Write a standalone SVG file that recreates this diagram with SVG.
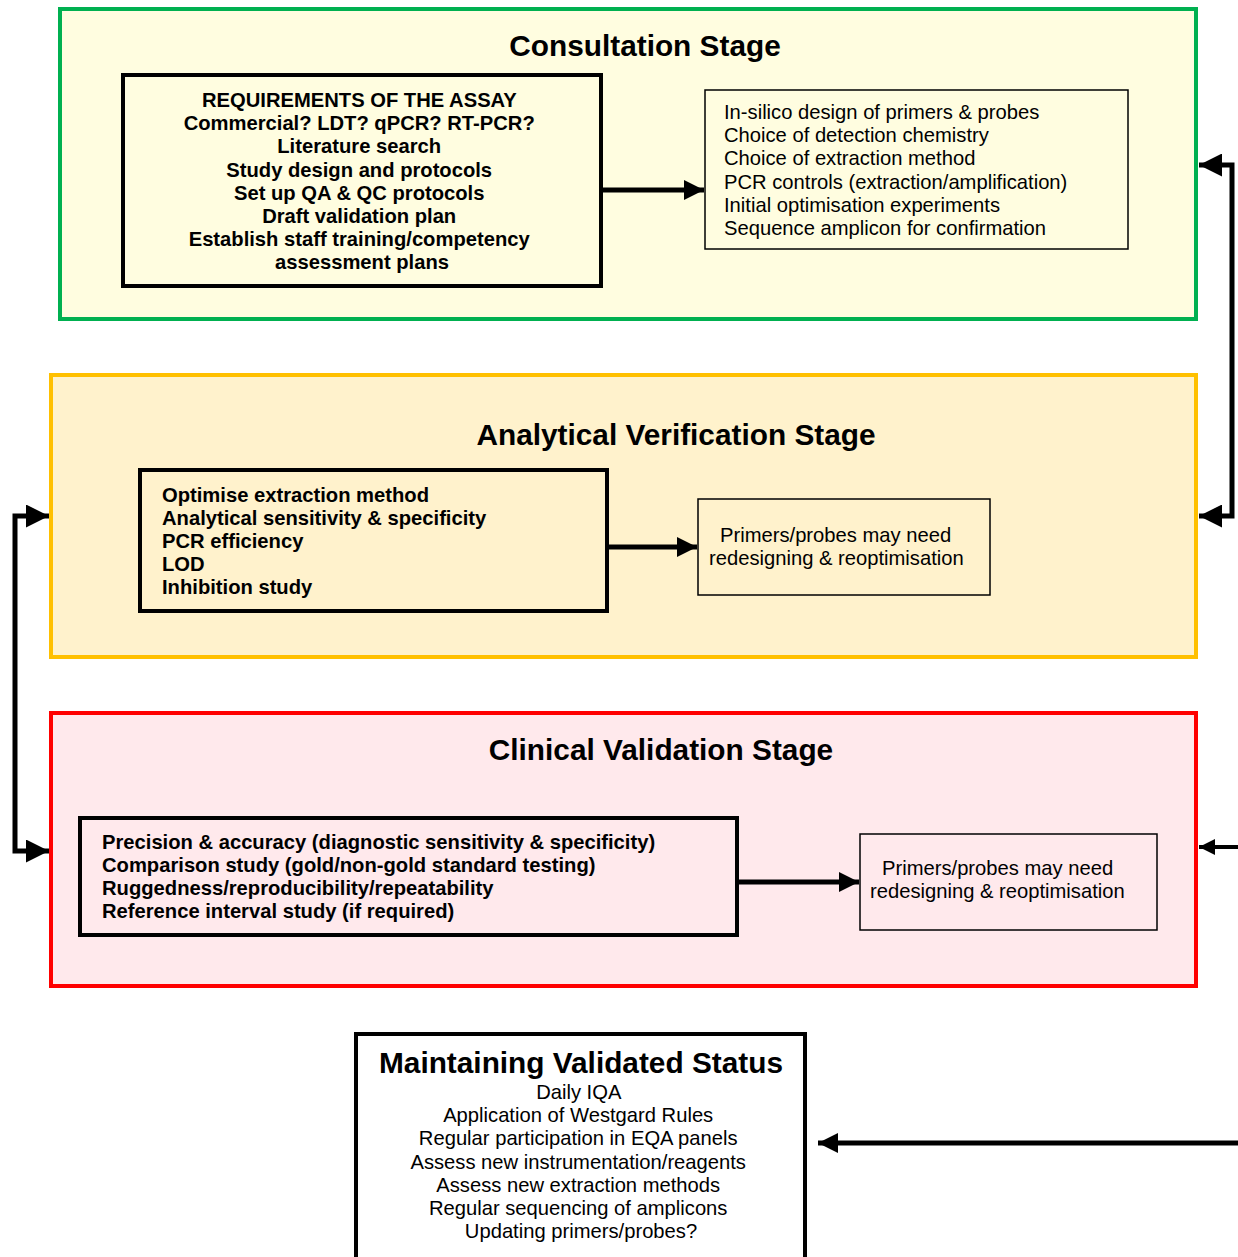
<svg xmlns="http://www.w3.org/2000/svg" width="1238" height="1257" viewBox="0 0 1238 1257">
<defs>
<style>
.title{font-family:"Liberation Sans",Arial,sans-serif;font-weight:bold;font-size:29.8px;fill:#000;text-anchor:middle}
.b{font-family:"Liberation Sans",Arial,sans-serif;font-weight:bold;font-size:20.2px;fill:#000}
.n{font-family:"Liberation Sans",Arial,sans-serif;font-size:20.2px;fill:#000}
.conn{fill:none;stroke:#000;stroke-width:5}
</style>
<marker id="ah" viewBox="0 0 10 10" refX="10" refY="5" markerWidth="4.6" markerHeight="4.6" markerUnits="strokeWidth" orient="auto">
<path d="M0,0 L10,5 L0,10 z" fill="#000"/>
</marker>
<marker id="ahs" viewBox="0 0 10 10" refX="10" refY="5" markerWidth="5" markerHeight="4" markerUnits="strokeWidth" orient="auto">
<path d="M0,0 L10,5 L0,10 z" fill="#000"/>
</marker>
</defs>
<rect width="1238" height="1257" fill="#fff"/>

<g id="consultation">
<rect x="60" y="9" width="1136" height="310" fill="#fffde0" stroke="#00b050" stroke-width="4"/>
<text class="title" x="645" y="56">Consultation Stage</text>
</g>
<g id="requirements">
<rect x="123" y="75" width="478" height="211" fill="#fffde0" stroke="#000" stroke-width="4"/>
<text class="b" text-anchor="middle">
<tspan x="362" y="107">REQUIREMENTS OF THE ASSAY</tspan>
<tspan x="362" y="130">Commercial? LDT? qPCR? RT-PCR?</tspan>
<tspan x="362" y="153">Literature search</tspan>
<tspan x="362" y="177">Study design and protocols</tspan>
<tspan x="362" y="200">Set up QA &amp; QC protocols</tspan>
<tspan x="362" y="223">Draft validation plan</tspan>
<tspan x="362" y="246">Establish staff training/competency</tspan>
<tspan x="362" y="269">assessment plans</tspan>
</text>
</g>
<g id="insilico">
<rect x="705" y="90" width="423" height="159" fill="#fffde0" stroke="#000" stroke-width="1.5"/>
<text class="n">
<tspan x="724" y="119">In-silico design of primers &amp; probes</tspan>
<tspan x="724" y="142">Choice of detection chemistry</tspan>
<tspan x="724" y="165">Choice of extraction method</tspan>
<tspan x="724" y="189">PCR controls (extraction/amplification)</tspan>
<tspan x="724" y="212">Initial optimisation experiments</tspan>
<tspan x="724" y="235">Sequence amplicon for confirmation</tspan>
</text>
</g>

<g id="analytical">
<rect x="51" y="375" width="1145" height="282" fill="#fff2cc" stroke="#ffc000" stroke-width="4"/>
<text class="title" x="676" y="445">Analytical Verification Stage</text>
</g>
<g id="optimise">
<rect x="140" y="470" width="467" height="141" fill="#fff2cc" stroke="#000" stroke-width="4"/>
<text class="b">
<tspan x="162" y="502">Optimise extraction method</tspan>
<tspan x="162" y="525">Analytical sensitivity &amp; specificity</tspan>
<tspan x="162" y="548">PCR efficiency</tspan>
<tspan x="162" y="571">LOD</tspan>
<tspan x="162" y="594">Inhibition study</tspan>
</text>
</g>
<g id="primers1">
<rect x="698" y="499" width="292" height="96" fill="#fff2cc" stroke="#000" stroke-width="1.5"/>
<text class="n">
<tspan x="720" y="542">Primers/probes may need</tspan>
<tspan x="709" y="565">redesigning &amp; reoptimisation</tspan>
</text>
</g>

<g id="clinical">
<rect x="51" y="713" width="1145" height="273" fill="#ffe9ec" stroke="#ff0000" stroke-width="4"/>
<text class="title" x="661" y="760">Clinical Validation Stage</text>
</g>
<g id="precision">
<rect x="80" y="818" width="657" height="117" fill="#ffe9ec" stroke="#000" stroke-width="4"/>
<text class="b">
<tspan x="102" y="849">Precision &amp; accuracy (diagnostic sensitivity &amp; specificity)</tspan>
<tspan x="102" y="872">Comparison study (gold/non-gold standard testing)</tspan>
<tspan x="102" y="895">Ruggedness/reproducibility/repeatability</tspan>
<tspan x="102" y="918">Reference interval study (if required)</tspan>
</text>
</g>
<g id="primers2">
<rect x="860" y="834" width="297" height="96" fill="#ffe9ec" stroke="#000" stroke-width="1.5"/>
<text class="n">
<tspan x="882" y="875">Primers/probes may need</tspan>
<tspan x="870" y="898">redesigning &amp; reoptimisation</tspan>
</text>
</g>

<g id="maintaining">
<rect x="356" y="1034" width="449" height="240" fill="#fff" stroke="#000" stroke-width="4"/>
<text class="title" x="581" y="1073">Maintaining Validated Status</text>
<text class="n" text-anchor="middle">
<tspan x="581" y="1099">Daily IQA</tspan>
<tspan x="581" y="1122">Application of Westgard Rules</tspan>
<tspan x="581" y="1145">Regular participation in EQA panels</tspan>
<tspan x="581" y="1169">Assess new instrumentation/reagents</tspan>
<tspan x="581" y="1192">Assess new extraction methods</tspan>
<tspan x="581" y="1215">Regular sequencing of amplicons</tspan>
<tspan x="581" y="1238">Updating primers/probes?</tspan>
</text>
</g>

<g id="connectors">
<line class="conn" x1="603" y1="190" x2="704" y2="190" marker-end="url(#ahs)"/>
<line class="conn" x1="609" y1="547" x2="697" y2="547" marker-end="url(#ahs)"/>
<line class="conn" x1="739" y1="882" x2="859" y2="882" marker-end="url(#ahs)"/>
<polyline class="conn" points="1220,165 1232,165 1232,516 1220,516"/>
<line class="conn" x1="1222" y1="165" x2="1199" y2="165" marker-end="url(#ah)"/>
<line class="conn" x1="1222" y1="516" x2="1199" y2="516" marker-end="url(#ah)"/>
<polyline class="conn" points="30,516 15,516 15,851 30,851"/>
<line class="conn" x1="28" y1="516" x2="49" y2="516" marker-end="url(#ah)"/>
<line class="conn" x1="28" y1="851" x2="49" y2="851" marker-end="url(#ah)"/>
<line class="conn" style="stroke-width:4" x1="1238" y1="847" x2="1199" y2="847" marker-end="url(#ahs)"/>
<line class="conn" x1="1238" y1="1143" x2="818" y2="1143" marker-end="url(#ahs)"/>
</g>
</svg>
